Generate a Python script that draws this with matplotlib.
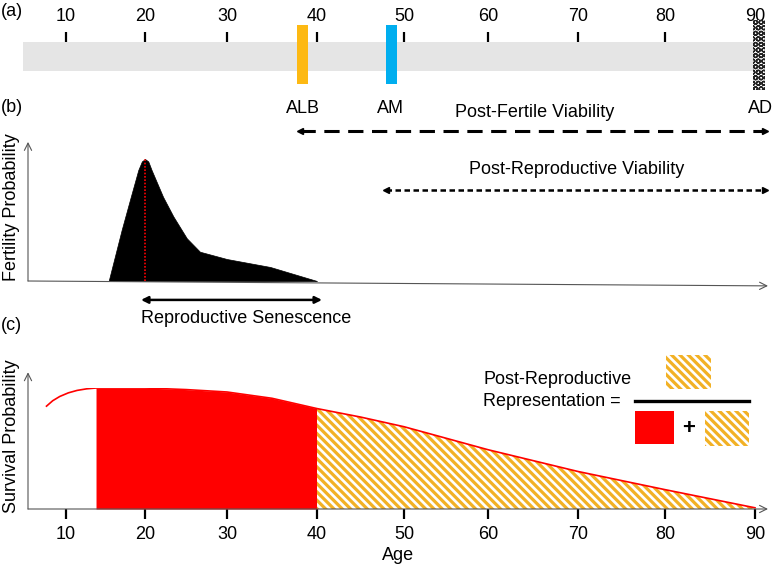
import numpy as np
import matplotlib
matplotlib.use("Agg")
import matplotlib.pyplot as plt
from matplotlib.patches import Rectangle

plt.rcParams.update({
    "font.family": ["Liberation Sans", "DejaVu Sans"],
    "font.size": 13,
    "hatch.linewidth": 2.3,
})

# =============================================================================
# DATA
# =============================================================================
tick_ages = [10, 20, 30, 40, 50, 60, 70, 80, 90]

# life-history milestones (age)
age_alb = 38.4   # age at last birth
age_am = 48.5    # age at menopause
age_ad = 90.5    # age at death

# fertility curve
fert_age = [15.4, 17.05, 18.2, 19.15, 19.6, 20.0, 20.4, 20.8, 22.2, 23.45, 25.1,
            26.7, 30.0, 34.8, 40.0]
fert_val = [0.0, 0.42, 0.69, 0.91, 0.98, 1.0, 0.98, 0.91, 0.69, 0.53, 0.35,
            0.24, 0.18, 0.115, 0.0]
peak_age = 20.0
senescence = (20.0, 40.0)

# survival curve
surv_age = [7.5, 8.3, 9.2, 10.3, 11.4, 12.6, 13.8, 16.0, 20.0, 25.0, 30.0, 35.0,
            40.0, 45.0, 50.0, 55.0, 60.0, 65.0, 70.0, 75.0, 80.0, 85.0, 90.0]
surv_val = [0.85, 0.895, 0.93, 0.96, 0.98, 0.993, 1.0, 1.0, 1.0, 0.987, 0.967, 0.915,
            0.83, 0.76, 0.68, 0.585, 0.49, 0.40, 0.31, 0.235, 0.16, 0.085, 0.01]
repro_start = 13.8
repro_end = 40.0

# =============================================================================
# LAYOUT
# =============================================================================
W, H = 779, 570
# hand drawn age axis: age -> pixel
knot_age = np.array([0, 10, 20, 30, 40, 50, 60, 70, 80, 90, 100], float)
knot_px = np.array([-12, 66, 145, 227, 317, 404, 488, 578, 665, 755, 843], float)


def fwd(a):
    return np.interp(a, knot_age, knot_px)


def inv(p):
    return np.interp(p, knot_px, knot_age)


def box(x0, y0, x1, y1):
    return [x0 / W, 1 - y1 / H, (x1 - x0) / W, (y1 - y0) / H]


def fpx(x, y):
    return (x / W, 1 - y / H)


RED = "#FF0000"
ORANGE = "#F2B125"
GOLD = "#FDB913"
BLUE = "#00AEEF"
GREY = "#E5E5E5"
AXC = "#555555"
FS = 13
HATCH = "\\" * 4

fig = plt.figure(figsize=(W / 100, H / 100), dpi=100)


def age_axes(rect):
    ax = fig.add_axes(rect)
    ax.set_xscale("function", functions=(fwd, inv))
    ax.set_xlim(inv(0), inv(W))
    ax.set_ylim(0, 1)
    for s in ax.spines.values():
        s.set_visible(False)
    ax.set_yticks([])
    ax.patch.set_alpha(0)
    return ax


# =============================================================================
# PANEL A: timeline
# =============================================================================
ax_a = age_axes(box(0, 42, W, 71))
ax_a.add_patch(Rectangle((inv(23), 0), 89.8 - inv(23), 1, fc=GREY, ec="none", zorder=1))
ax_a.set_xticks(tick_ages)
ax_a.set_xticklabels([str(t) for t in tick_ages])
ax_a.xaxis.tick_top()
ax_a.tick_params(axis="x", direction="out", length=7.2, width=1.6, pad=5,
                 labelsize=FS, color="black")
ax_a.xaxis.set_tick_params(which="minor", length=0)

ax_a.add_patch(Rectangle((37.8, -0.45), 1.25, 2.04, fc=GOLD, ec="none", zorder=4, clip_on=False))
ax_a.add_patch(Rectangle((47.9, -0.45), 1.3, 2.04, fc=BLUE, ec="none", zorder=4, clip_on=False))
with plt.rc_context({"hatch.linewidth": 1.0}):
    ad_mark = Rectangle((89.8, -0.65), 1.35, 2.4, fc="white", ec="#222222", lw=0,
                        hatch="OOO", zorder=4, clip_on=False)
ax_a.add_patch(ad_mark)

ax_a.text(age_alb, -1.28, "ALB", ha="center", va="center", fontsize=FS)
ax_a.text(age_am, -1.28, "AM", ha="center", va="center", fontsize=FS)
ax_a.text(inv(760), -1.28, "AD", ha="center", va="center", fontsize=FS)

# =============================================================================
# PANEL B: fertility
# =============================================================================
ax_b = age_axes(box(0, 159, W, 281))
ax_b.set_xticks([])
ax_b.fill_between(fert_age, 0, fert_val, color="black", lw=0.5, zorder=2)
ax_b.plot([peak_age, peak_age], [0, max(fert_val)], color=RED, ls=(0, (1, 1)),
          lw=1.2, zorder=3)

x_left, x_right = inv(28), inv(768)
ax_b.annotate("", xy=(x_left, 1.14), xytext=(x_left, 0),
              arrowprops=dict(arrowstyle="->", color=AXC, lw=0.8, shrinkA=0, shrinkB=0),
              annotation_clip=False)
ax_b.annotate("", xy=(x_right, -0.04), xytext=(x_left, 0),
              arrowprops=dict(arrowstyle="->", color=AXC, lw=0.8, shrinkA=0, shrinkB=0),
              annotation_clip=False)

# viability ranges
ax_b.plot([inv(300), inv(765)], [1.23, 1.23], color="black", lw=2.2,
          dashes=(5, 2.8), clip_on=False)
ax_b.plot([inv(300)], [1.23], marker="<", ms=5, color="black", clip_on=False)
ax_b.plot([inv(765)], [1.23], marker=">", ms=5, color="black", clip_on=False)
ax_b.text(inv(535), 1.38, "Post-Fertile Viability", ha="center", va="center", fontsize=FS)

ax_b.plot([inv(386), inv(765)], [0.75, 0.75], color="black", lw=1.8,
          dashes=(2.2, 1.4), clip_on=False)
ax_b.plot([inv(386)], [0.75], marker="<", ms=4.5, color="black", clip_on=False)
ax_b.plot([inv(765)], [0.75], marker=">", ms=4.5, color="black", clip_on=False)
ax_b.text(inv(577), 0.915, "Post-Reproductive Viability", ha="center", va="center", fontsize=FS)

ax_b.annotate("", xy=(inv(322), -0.155), xytext=(inv(141), -0.155),
              arrowprops=dict(arrowstyle="<|-|>", color="black", lw=1.8,
                              mutation_scale=10, shrinkA=0, shrinkB=0),
              annotation_clip=False)
ax_b.text(inv(246), -0.31, "Reproductive Senescence", ha="center", va="center", fontsize=FS)

# =============================================================================
# PANEL C: survival
# =============================================================================
ax_c = age_axes(box(0, 388, W, 509))
sa = np.array(surv_age)
sv = np.array(surv_val)
ax_c.fill_between(sa, 0, sv, where=(sa >= repro_start) & (sa <= repro_end),
                  color=RED, lw=0, zorder=2)
ax_c.fill_between(sa, 0, sv, where=(sa >= repro_end), facecolor="white",
                  edgecolor=ORANGE, hatch=HATCH, lw=0, zorder=2)
ax_c.plot(sa, sv, color=RED, lw=1.2, zorder=3)

ax_c.set_xticks(tick_ages)
ax_c.set_xticklabels([str(t) for t in tick_ages])
ax_c.tick_params(axis="x", direction="out", length=7.2, width=1.6, pad=5,
                 labelsize=FS, color="black")
ax_c.xaxis.set_tick_params(which="minor", length=0)

ax_c.annotate("", xy=(x_left, 1.13), xytext=(x_left, 0),
              arrowprops=dict(arrowstyle="->", color=AXC, lw=0.8, shrinkA=0, shrinkB=0),
              annotation_clip=False)
ax_c.annotate("", xy=(x_right, 0), xytext=(x_left, 0),
              arrowprops=dict(arrowstyle="->", color=AXC, lw=0.8, shrinkA=0, shrinkB=0),
              annotation_clip=False)

fig.text(*fpx(398, 556), "Age", ha="center", va="center", fontsize=FS)

# formula
fig.text(*fpx(483, 379), "Post-Reproductive", ha="left", va="center", fontsize=FS)
fig.text(*fpx(483, 402), "Representation =", ha="left", va="center", fontsize=FS)
fig.add_artist(plt.Line2D([635 / W, 749 / W], [1 - 401 / H, 1 - 401 / H],
                          color="black", lw=2.4, transform=fig.transFigure))


def fig_rect(x0, y0, x1, y1, **kw):
    r = Rectangle(fpx(x0, y1), (x1 - x0) / W, (y1 - y0) / H,
                  transform=fig.transFigure, **kw)
    fig.add_artist(r)


fig_rect(666, 355, 711, 389, facecolor="white", edgecolor=ORANGE, hatch=HATCH, lw=0)
fig_rect(635, 411, 674, 444, facecolor=RED, edgecolor="none", lw=0)
fig_rect(705, 411, 749, 446, facecolor="white", edgecolor=ORANGE, hatch=HATCH, lw=0)
fig.text(*fpx(689, 428), "+", ha="center", va="center", fontsize=16, fontweight="bold")

# panel labels / y labels
fig.text(*fpx(1, 12), "(a)", ha="left", va="center", fontsize=FS)
fig.text(*fpx(1, 108), "(b)", ha="left", va="center", fontsize=FS)
fig.text(*fpx(1, 325), "(c)", ha="left", va="center", fontsize=FS)
fig.text(*fpx(12, 207), "Fertility Probability", rotation=90, ha="center", va="center",
         fontsize=FS)
fig.text(*fpx(12, 436), "Survival Probability", rotation=90, ha="center", va="center",
         fontsize=FS)

fig.savefig("out.png", dpi=100)
